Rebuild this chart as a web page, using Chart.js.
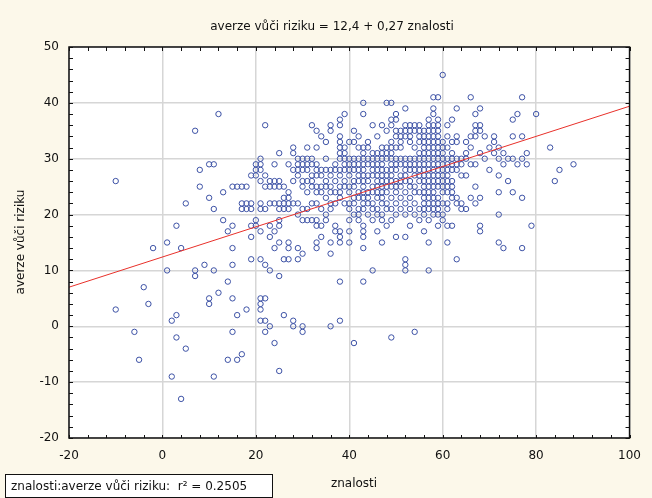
<!DOCTYPE html>
<html>
<head>
<meta charset="utf-8">
<script src="https://cdn.jsdelivr.net/npm/chart.js@4/dist/chart.umd.min.js"></script>
<style>
html,body{margin:0;padding:0;background:#fcf8ea;}
#wrap{width:652px;height:498px;position:relative;}
</style>
</head>
<body>
<div id="wrap"><canvas id="c" width="652" height="498"></canvas></div>
<script>
// ---- data ----
const chartTitle = "averze vůči riziku = 12,4 + 0,27 znalosti";
const xTitle = "znalosti";
const yTitle = "averze vůči riziku";
const legendText = "znalosti:averze vůči riziku:  r² = 0.2505";
const intercept = 12.4;
const slope = 0.27;
const xTicks = [-20, 0, 20, 40, 60, 80, 100];
const yTicks = [-20, -10, 0, 10, 20, 30, 40, 50];

// knowledge score (x) columns and the risk-aversion values (y) observed in each column
const columnX = [-10,-6,-5,-4,-3,-2,1,2,3,4,5,7,8,9,10,11,12,13,14,15,16,17,18,19,20,21,22,23,24,25,26,27,28,29,30,31,32,33,34,35,36,37,38,39,40,41,42,43,44,45,46,47,48,49,50,51,52,53,54,55,56,57,58,59,60,61,62,63,64,65,66,67,68,69,70,71,72,73,74,75,76,77,78,79,80,83,84,85,88];
const columnY = [
 [26,3],[-1],[-6],[7],[4],[14],[15,10],[1,-9],[18,2,-2],[14,-13],[22,-4],[35,10,9],[28,25],[11],
 [29,23,5,4],[29,21,10,-9],[38,6],[24,19],[17,8,-6],[25,18,14,11,5,-1],[25,2,-6],[25,22,21,-5],[25,22,21,3],
 [27,22,21,18,16,12],[29,28,27,19,18],[30,29,28,26,22,21,17,12,5,4,3,1],[36,27,25,21,11,5,1,-1],
 [26,25,22,18,16,10,0],[29,26,25,22,17,14,-3],[31,26,25,22,21,19,18,15,9,-8],[25,23,22,21,12,2],
 [29,24,23,22,21,15,14,12],[32,31,28,26,22,1,0],[30,29,28,27,22,20,14,12],[30,29,28,26,25,21,19,13,0,-1],
 [32,30,29,28,26,24,21,19],[36,30,29,27,26,25,22,19],[35,32,29,28,27,25,24,22,19,18,15,14],
 [34,28,27,25,24,21,18,16],[33,30,28,26,25,23,20,19],[36,35,28,27,25,24,22,21,15,13,0],
 [29,28,26,24,22,18,17],[37,36,34,33,32,31,30,28,27,25,24,23,17,16,15,8,1],[38,32,31,30,29,28,26,25,22],
 [33,30,29,28,27,25,24,22,21,19,17,15],[35,33,30,29,28,26,25,23,22,20,-3],
 [34,32,30,29,28,27,26,24,23,21,20,19],[40,38,32,31,30,29,28,27,26,25,24,23,22,21,18,17,16,14,8],
 [33,32,30,29,27,26,24,23,22,20],[36,31,30,29,28,27,25,24,22,21,19,10],
 [34,31,30,29,28,27,26,25,24,23,21,20,17],[36,32,31,30,29,28,27,26,25,24,23,22,20,19,15],
 [40,35,32,31,30,28,27,26,25,24,22,21,18],[40,37,36,33,32,31,30,29,28,27,26,25,23,21,19,-2],
 [38,37,35,34,32,30,29,28,26,25,24,22,20,16],[35,34,33,32,30,29,27,26,25,23,21],
 [39,36,35,34,30,29,28,27,26,24,22,20,16,12,11,10],[36,35,34,33,30,29,28,26,25,23,21,18],
 [36,35,32,30,29,28,27,25,24,22,20,-1],[36,35,34,33,31,30,29,28,27,26,24,21,19],
 [35,34,33,32,31,30,29,28,27,26,25,24,23,22,21,20,17],[37,36,35,34,33,32,31,30,29,28,27,26,25,24,23,22,21,19,15,10],
 [41,39,38,36,35,34,33,32,31,30,29,28,27,26,25,24,23,22,21,20],[41,37,36,35,34,33,32,31,30,29,28,27,26,25,23,22,21,20,18],
 [45,33,32,31,30,29,28,27,26,25,24,22,20,19],[36,34,32,30,29,28,27,26,25,24,22,21,18,15],
 [37,33,31,30,29,28,26,25,24,23,18],[39,34,33,30,29,28,23,22,12],[30,29,27,22,21],[33,31,30,27,21],
 [41,34,32,29,23],[38,36,35,34,29,25,22],[39,36,35,31,23,18,17],[34,30],[32,28],[34,33,31],
 [32,30,27,24,20,15],[31,29,14],[30,26],[37,34,30,24],[38,29],[41,34,30,23,14],[31,29],[18],[38],[32],[26],[28],[29]
];

const points = [];
columnX.forEach((x, i) => columnY[i].forEach(y => points.push({x: x, y: y})));
const fitLine = [xTicks[0], xTicks[xTicks.length - 1]].map(x => ({x: x, y: intercept + slope * x}));

const FONT = "'DejaVu Sans', Verdana, sans-serif";

const decor = {
  id: 'decor',
  beforeDraw(chart) {
    const {ctx, chartArea: a} = chart;
    ctx.save();
    ctx.fillStyle = '#fcf8ea';
    ctx.fillRect(0, 0, chart.width, chart.height);
    ctx.fillStyle = '#ffffff';
    ctx.fillRect(a.left, a.top, a.right - a.left, a.bottom - a.top);
    ctx.restore();
  },
  afterDraw(chart) {
    const {ctx, chartArea: a, scales} = chart;
    const xs = scales.x, ys = scales.y;
    ctx.save();
    ctx.strokeStyle = '#111';
    ctx.lineWidth = 1.5;
    ctx.strokeRect(a.left, a.top, a.right - a.left, a.bottom - a.top);
    ctx.lineWidth = 1;
    ctx.beginPath();
    for (let v = -20; v <= 100; v += 4) {
      const p = Math.round(xs.getPixelForValue(v)) + 0.5;
      ctx.moveTo(p, a.top); ctx.lineTo(p, a.top + 4);
      ctx.moveTo(p, a.bottom); ctx.lineTo(p, a.bottom - 3);
    }
    for (let v = -20; v <= 50; v += 2) {
      const p = Math.round(ys.getPixelForValue(v)) + 0.5;
      ctx.moveTo(a.left, p); ctx.lineTo(a.left + 4, p);
      ctx.moveTo(a.right, p); ctx.lineTo(a.right - 4, p);
    }
    ctx.stroke();
    ctx.fillStyle = '#111';
    ctx.font = '12px ' + FONT;
    ctx.textAlign = 'center';
    ctx.textBaseline = 'middle';
    ctx.fillText(chartTitle, 332, 27);
    ctx.fillText(xTitle, 354, 484);
    ctx.save();
    ctx.translate(21, 242);
    ctx.rotate(-Math.PI / 2);
    ctx.fillText(yTitle, 0, 0);
    ctx.restore();
    ctx.fillStyle = '#ffffff';
    ctx.fillRect(5, 474, 267, 23);
    ctx.strokeStyle = '#111';
    ctx.lineWidth = 1;
    ctx.strokeRect(5.5, 474.5, 267, 23);
    ctx.fillStyle = '#111';
    ctx.textAlign = 'left';
    ctx.fillText(legendText, 11, 487);
    ctx.restore();
  }
};

new Chart(document.getElementById('c'), {
  type: 'scatter',
  data: {
    datasets: [
      {
        data: fitLine,
        type: 'line',
        showLine: true,
        borderColor: '#e8302a',
        borderWidth: 1,
        pointRadius: 0,
        order: 0
      },
      {
        data: points,
        pointStyle: 'circle',
        pointRadius: 2.7,
        pointBorderWidth: 1,
        pointBorderColor: '#3d52a6',
        pointBackgroundColor: 'rgba(0,0,0,0)',
        order: 1
      }
    ]
  },
  options: {
    responsive: false,
    animation: false,
    events: [],
    layout: {padding: {left: 0, right: 8, top: 47, bottom: 0}},
    plugins: {legend: {display: false}, title: {display: false}, tooltip: {enabled: false}},
    scales: {
      x: {
        type: 'linear', min: -20, max: 100,
        afterBuildTicks: s => { s.ticks = xTicks.map(v => ({value: v})); },
        afterFit: s => { s.height = 60; },
        grid: {color: '#d6d6d6', lineWidth: 1.5, drawTicks: false},
        border: {display: false},
        ticks: {color: '#111', font: {size: 12, family: FONT}, padding: 11, maxRotation: 0}
      },
      y: {
        type: 'linear', min: -20, max: 50,
        afterBuildTicks: s => { s.ticks = yTicks.map(v => ({value: v})); },
        afterFit: s => { s.width = 69; },
        grid: {color: '#d6d6d6', lineWidth: 1.5, drawTicks: false},
        border: {display: false},
        ticks: {color: '#111', font: {size: 12, family: FONT}, padding: 10}
      }
    }
  },
  plugins: [decor]
});
</script>
</body>
</html>
